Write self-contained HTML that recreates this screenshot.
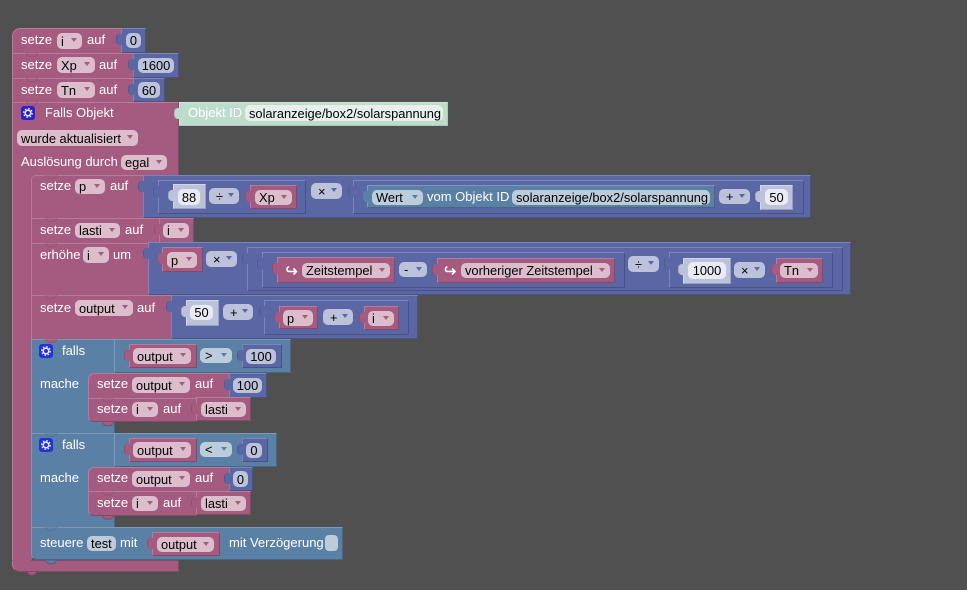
<!DOCTYPE html>
<html><head><meta charset="utf-8">
<style>
html,body{margin:0;padding:0;background:#505050;width:967px;height:590px;overflow:hidden}
body{position:relative;font-family:"Liberation Sans",sans-serif;font-size:13px}
.b{position:absolute;box-sizing:border-box;border:1px solid;}
.p{background:#a55b80;border-color:#b77c99 #844966 #844966 #b77c99}
.m{background:#5b67a5;border-color:#7c85b7 #495284 #495284 #7c85b7}
.g{background:#5b80a5;border-color:#7c99b7 #496684 #496684 #7c99b7}
.s{background:#bdc2db;border-color:#d3d6e6 #9a9fc0 #9a9fc0 #d3d6e6}
.c{background:#bddccc;border-color:#cfe6da #a9c9b9 #a9c9b9 #cfe6da}
.tb::before{content:"";position:absolute;left:-6px;top:5px;width:5px;height:11px;background:inherit;border-radius:4px 0 0 4px;border-left:1px solid rgba(0,0,0,.12)}
.l{position:absolute;color:#fff;line-height:16px;white-space:nowrap}
.f{position:absolute;box-sizing:border-box;border-radius:5px;display:flex;align-items:center;padding-left:4px;color:#000;white-space:nowrap;font-size:12.85px}
.fp{background:#dbbdcc}.fm{background:#bdc2db}.fg{background:#bdccdb}.fs{background:#e9eaf4;justify-content:center;padding:0}.fc{background:#e6f1eb}
.d::after{content:"";position:absolute;right:5px;top:5px;border-left:3px solid transparent;border-right:3px solid transparent;border-top:4px solid #a55b80}
.fm.d::after{border-top-color:#5b67a5}.fg.d::after{border-top-color:#5b80a5}
.ctr{justify-content:center;padding:0}
svg{position:absolute;left:0;top:0}
</style></head><body>

<!-- top stack -->
<div class="b p" style="left:12px;top:28px;width:110px;height:26px;border-radius:8px 0 0 0"></div>
<div class="b m tb" style="left:121px;top:28px;width:25px;height:25px"></div>
<div class="f fm ctr" style="left:126px;top:33px;width:15px;height:15px">0</div>
<div class="l" style="left:21px;top:32px">setze</div><div class="f fp d" style="left:57px;top:33px;width:25px;height:16px">i</div><div class="l" style="left:87px;top:32px">auf</div>

<div class="b p" style="left:12px;top:53px;width:122px;height:26px"></div>
<div class="b m tb" style="left:133px;top:53px;width:46px;height:25px"></div>
<div class="f fm ctr" style="left:138px;top:58px;width:36px;height:15px">1600</div>
<div class="l" style="left:21px;top:57px">setze</div><div class="f fp d" style="left:57px;top:57px;width:38px;height:16px">Xp</div><div class="l" style="left:99px;top:57px">auf</div>

<div class="b p" style="left:12px;top:78px;width:122px;height:25px"></div>
<div class="b m tb" style="left:133px;top:78px;width:32px;height:24px"></div>
<div class="f fm ctr" style="left:138px;top:82px;width:22px;height:16px">60</div>
<div class="l" style="left:21px;top:82px">setze</div><div class="f fp d" style="left:57px;top:82px;width:38px;height:16px">Tn</div><div class="l" style="left:99px;top:82px">auf</div>

<!-- Falls Objekt C block -->
<div class="b p" style="left:12px;top:102px;width:167px;height:74px;border-bottom:none"></div>
<div class="b p" style="left:12px;top:170px;width:20px;height:402px;border-top:none;border-right:none;border-radius:0 0 0 8px"></div>
<div class="b p" style="left:12px;top:560px;width:167px;height:12px;border-radius:0 0 0 8px;border-top-color:#844966"></div>
<div style="position:absolute;left:13px;top:155px;width:18px;height:410px;background:#a55b80"></div>
<div class="l" style="left:45px;top:105px">Falls Objekt</div>
<div class="f fp d" style="left:17px;top:130px;width:121px;height:16px">wurde aktualisiert</div>
<div class="l" style="left:21px;top:154px">Auslösung durch</div>
<div class="f fp d" style="left:121px;top:155px;width:46px;height:15px">egal</div>
<div class="b c tb" style="left:179px;top:102px;width:269px;height:24px"></div>
<div class="l" style="left:188px;top:105px">Objekt ID</div>
<div class="f fc" style="left:245px;top:105px;width:198px;height:16px">solaranzeige/box2/solarspannung</div>

<!-- setze p -->
<div class="b p" style="left:31px;top:175px;width:113px;height:44px;border-radius:5px 0 0 0"></div>
<div class="b m tb" style="left:143px;top:175px;width:668px;height:43px"></div>
<div class="l" style="left:40px;top:178px">setze</div><div class="f fp d" style="left:75px;top:179px;width:30px;height:15px">p</div><div class="l" style="left:110px;top:178px">auf</div>
<div class="b m tb" style="left:158px;top:180px;width:148px;height:34px"></div>
<div class="b s tb" style="left:173px;top:184px;width:33px;height:25px"></div>
<div class="f fs" style="left:178px;top:189px;width:22px;height:16px">88</div>
<div class="f fm d" style="left:209px;top:188px;width:30px;height:16px;padding-left:7px">÷</div>
<div class="b p tb" style="left:250px;top:185px;width:47px;height:24px"></div>
<div class="f fp d" style="left:255px;top:190px;width:37px;height:15px">Xp</div>
<div class="f fm d" style="left:311px;top:183px;width:31px;height:16px;padding-left:7px">×</div>
<div class="b m tb" style="left:353px;top:180px;width:451px;height:34px"></div>
<div class="b g tb" style="left:367px;top:185px;width:348px;height:23px"></div>
<div class="f fg d" style="left:372px;top:190px;width:51px;height:15px">Wert</div>
<div class="l" style="left:427px;top:189px">vom Objekt ID</div>
<div class="f fg" style="left:512px;top:190px;width:198px;height:15px">solaranzeige/box2/solarspannung</div>
<div class="f fm d" style="left:719px;top:189px;width:31px;height:15px;padding-left:7px">+</div>
<div class="b s tb" style="left:760px;top:185px;width:33px;height:25px"></div>
<div class="f fs" style="left:765px;top:189px;width:23px;height:16px">50</div>

<!-- setze lasti -->
<div class="b p" style="left:31px;top:218px;width:129px;height:26px"></div>
<div class="b p tb" style="left:159px;top:218px;width:35px;height:25px"></div>
<div class="l" style="left:40px;top:222px">setze</div><div class="f fp d" style="left:75px;top:223px;width:45px;height:15px">lasti</div><div class="l" style="left:125px;top:222px">auf</div>
<div class="f fp d" style="left:163px;top:223px;width:26px;height:15px">i</div>

<!-- erhöhe -->
<div class="b p" style="left:31px;top:243px;width:118px;height:53px"></div>
<div class="b m tb" style="left:148px;top:242px;width:703px;height:53px"></div>
<div class="l" style="left:40px;top:247px">erhöhe</div><div class="f fp d" style="left:83px;top:247px;width:26px;height:16px">i</div><div class="l" style="left:113px;top:247px">um</div>
<div class="b p tb" style="left:162px;top:247px;width:41px;height:25px"></div>
<div class="f fp d" style="left:167px;top:252px;width:30px;height:16px">p</div>
<div class="f fm d" style="left:206px;top:251px;width:31px;height:16px;padding-left:7px">×</div>
<div class="b m tb" style="left:247px;top:247px;width:596px;height:44px"></div>
<div class="b m tb" style="left:262px;top:252px;width:363px;height:36px"></div>
<div class="b p tb" style="left:277px;top:257px;width:118px;height:26px"></div>
<div class="f fp d" style="left:302px;top:263px;width:88px;height:15px">Zeitstempel</div>
<div class="f fm d" style="left:399px;top:262px;width:28px;height:15px;padding-left:5px">-</div>
<div class="b p tb" style="left:437px;top:258px;width:178px;height:25px"></div>
<div class="f fp d" style="left:461px;top:263px;width:149px;height:15px">vorheriger Zeitstempel</div>
<div class="f fm d" style="left:628px;top:256px;width:31px;height:16px;padding-left:7px">÷</div>
<div class="b m tb" style="left:669px;top:252px;width:164px;height:36px"></div>
<div class="b s tb" style="left:683px;top:258px;width:48px;height:26px"></div>
<div class="f fs" style="left:688px;top:262px;width:38px;height:17px">1000</div>
<div class="f fm d" style="left:734px;top:262px;width:31px;height:16px;padding-left:7px">×</div>
<div class="b p tb" style="left:776px;top:258px;width:47px;height:25px"></div>
<div class="f fp d" style="left:780px;top:263px;width:38px;height:15px">Tn</div>

<!-- setze output -->
<div class="b p" style="left:31px;top:295px;width:141px;height:45px"></div>
<div class="b m tb" style="left:171px;top:295px;width:247px;height:44px"></div>
<div class="l" style="left:40px;top:300px">setze</div><div class="f fp d" style="left:75px;top:300px;width:58px;height:16px">output</div><div class="l" style="left:137px;top:300px">auf</div>
<div class="b s tb" style="left:186px;top:300px;width:33px;height:26px"></div>
<div class="f fs" style="left:190px;top:305px;width:23px;height:15px">50</div>
<div class="f fm d" style="left:223px;top:304px;width:30px;height:16px;padding-left:7px">+</div>
<div class="b m tb" style="left:264px;top:300px;width:145px;height:35px"></div>
<div class="b p tb" style="left:279px;top:306px;width:39px;height:23px"></div>
<div class="f fp d" style="left:283px;top:310px;width:30px;height:16px">p</div>
<div class="f fm d" style="left:323px;top:309px;width:30px;height:16px;padding-left:7px">+</div>
<div class="b p tb" style="left:364px;top:306px;width:35px;height:24px"></div>
<div class="f fp d" style="left:368px;top:311px;width:26px;height:15px">i</div>

<!-- falls 1 -->
<div class="b g" style="left:31px;top:339px;width:84px;height:95px"></div>
<div class="b g" style="left:114px;top:339px;width:177px;height:34px"></div>
<div class="l" style="left:62px;top:343px">falls</div>
<div class="l" style="left:40px;top:376px">mache</div>
<div class="b p tb" style="left:129px;top:344px;width:68px;height:24px"></div>
<div class="f fp d" style="left:133px;top:348px;width:58px;height:16px">output</div>
<div class="f fg d" style="left:200px;top:348px;width:32px;height:15px;padding-left:5px">&gt;</div>
<div class="b m tb" style="left:242px;top:344px;width:40px;height:24px"></div>
<div class="f fm ctr" style="left:246px;top:349px;width:30px;height:15px">100</div>
<div class="b p" style="left:88px;top:373px;width:142px;height:26px;border-radius:6px 0 0 0"></div>
<div class="b m tb" style="left:229px;top:373px;width:38px;height:25px"></div>
<div class="f fm ctr" style="left:233px;top:378px;width:29px;height:15px">100</div>
<div class="l" style="left:97px;top:376px">setze</div><div class="f fp d" style="left:132px;top:377px;width:58px;height:16px">output</div><div class="l" style="left:195px;top:376px">auf</div>
<div class="b p" style="left:88px;top:398px;width:109px;height:24px;border-radius:0 0 0 6px"></div>
<div class="b p tb" style="left:196px;top:397px;width:55px;height:24px"></div>
<div class="l" style="left:97px;top:401px">setze</div><div class="f fp d" style="left:132px;top:402px;width:26px;height:15px">i</div><div class="l" style="left:163px;top:401px">auf</div>
<div class="f fp d" style="left:201px;top:402px;width:45px;height:15px">lasti</div>

<!-- falls 2 -->
<div class="b g" style="left:31px;top:433px;width:84px;height:95px"></div>
<div class="b g" style="left:114px;top:433px;width:163px;height:34px"></div>
<div class="l" style="left:62px;top:437px">falls</div>
<div class="l" style="left:40px;top:470px">mache</div>
<div class="b p tb" style="left:129px;top:438px;width:68px;height:24px"></div>
<div class="f fp d" style="left:133px;top:442px;width:58px;height:16px">output</div>
<div class="f fg d" style="left:200px;top:442px;width:32px;height:15px;padding-left:5px">&lt;</div>
<div class="b m tb" style="left:242px;top:438px;width:26px;height:24px"></div>
<div class="f fm ctr" style="left:246px;top:443px;width:16px;height:15px">0</div>
<div class="b p" style="left:88px;top:467px;width:142px;height:25px;border-radius:6px 0 0 0"></div>
<div class="b m tb" style="left:229px;top:467px;width:24px;height:24px"></div>
<div class="f fm ctr" style="left:233px;top:471px;width:15px;height:16px">0</div>
<div class="l" style="left:97px;top:470px">setze</div><div class="f fp d" style="left:132px;top:471px;width:58px;height:16px">output</div><div class="l" style="left:195px;top:470px">auf</div>
<div class="b p" style="left:88px;top:491px;width:109px;height:25px;border-radius:0 0 0 6px"></div>
<div class="b p tb" style="left:196px;top:491px;width:55px;height:24px"></div>
<div class="l" style="left:97px;top:495px">setze</div><div class="f fp d" style="left:132px;top:496px;width:26px;height:15px">i</div><div class="l" style="left:163px;top:495px">auf</div>
<div class="f fp d" style="left:201px;top:496px;width:45px;height:15px">lasti</div>

<!-- steuere -->
<div class="b g" style="left:31px;top:527px;width:312px;height:33px;border-radius:0 0 0 6px"></div>
<div class="l" style="left:40px;top:535px">steuere</div>
<div class="f fg" style="left:87px;top:536px;width:29px;height:15px">test</div>
<div class="l" style="left:120px;top:535px">mit</div>
<div class="b p tb" style="left:152px;top:532px;width:68px;height:24px"></div>
<div class="f fp d" style="left:157px;top:537px;width:57px;height:15px">output</div>
<div class="l" style="left:229px;top:535px">mit Verzögerung</div>
<div class="f fg" style="left:325px;top:535px;width:13px;height:16px;border-radius:4px"></div>

<svg width="967" height="590" viewBox="0 0 967 590">
 <!-- notches -->
 <g fill="#a55b80" stroke="#965375" stroke-width="1">
  <path d="M26 53.5l3 3h6l3-3"/><path d="M26 78.5l3 3h6l3-3"/><path d="M26 102.5l3 3h6l3-3"/>
  <path d="M45 175.5l3 3h6l3-3"/>
  <path d="M45 218.5l3 3h6l3-3"/><path d="M45 243.5l3 3h6l3-3"/><path d="M45 295.5l3 3h6l3-3"/><path d="M45 339.5l3 3h6l3-3"/><path d="M45 433.5l3 3h6l3-3" fill="#5b80a5" stroke="#527493"/><path d="M45 527.5l3 3h6l3-3" fill="#5b80a5" stroke="#527493"/>
  <path d="M102 398.5l3 3h6l3-3"/><path d="M102 422.5l3 3h6l3-3" stroke="#844966"/>
  <path d="M102 492l3 3h6l3-3"/><path d="M102 516l3 3h6l3-3" stroke="#844966"/>
  <path d="M45 560.5l3 3h6l3-3" fill="#5b80a5" stroke="#496684"/>
  <path d="M27 572l3 3h4l3-3" stroke="#844966"/>
 </g>
 <!-- hook arrows -->
 <g fill="none" stroke="#fff" stroke-width="1.6">
  <path d="M289 267q-2 0-2 2.2t2 2.2h7M293.5 268.5l3 3-3 3"/>
  <path d="M447.5 267q-2 0-2 2.2t2 2.2h7M452 268.5l3 3-3 3"/>
 </g>
 <!-- gears -->
 <rect x="21" y="106" width="14" height="14" rx="3" fill="#2a22cc"/>
 <circle cx="28" cy="113" r="2.8" fill="none" stroke="#e8e8ff" stroke-width="1.6"/>
 <circle cx="28" cy="113" r="4.3" fill="none" stroke="#e8e8ff" stroke-width="1.2" stroke-dasharray="1.7 1.67"/>
 <rect x="39" y="344" width="14" height="14" rx="3" fill="#2233dd"/>
 <circle cx="46" cy="351" r="2.8" fill="none" stroke="#e8e8ff" stroke-width="1.6"/>
 <circle cx="46" cy="351" r="4.3" fill="none" stroke="#e8e8ff" stroke-width="1.2" stroke-dasharray="1.7 1.67"/>
 <rect x="39" y="438" width="14" height="14" rx="3" fill="#2233dd"/>
 <circle cx="46" cy="445" r="2.8" fill="none" stroke="#e8e8ff" stroke-width="1.6"/>
 <circle cx="46" cy="445" r="4.3" fill="none" stroke="#e8e8ff" stroke-width="1.2" stroke-dasharray="1.7 1.67"/>
</svg>
</body></html>
